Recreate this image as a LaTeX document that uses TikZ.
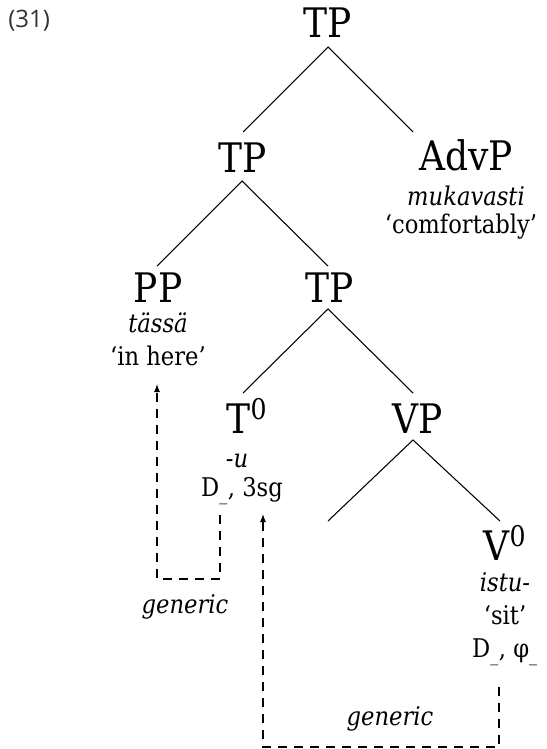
\documentclass[tikz,border=0pt]{standalone}
\usepackage{fontspec}
\setmainfont{DejaVu Serif}
\newfontfamily\numfont{Open Sans}
\usetikzlibrary{arrows.meta}
\newcommand{\blank}{\textsubscript{\_}}
\begin{document}
\begin{tikzpicture}[x=0.75pt,y=-0.75pt,
  big/.style={font=\fontsize{27}{32}\selectfont, inner sep=0pt, anchor=base, yscale=1.13},
  gloss/.style={font=\fontsize{16.5}{20}\selectfont, inner sep=0pt, anchor=base, yscale=1.17, xscale=1.03},
  branch/.style={line width=0.8pt},
  link/.style={dash pattern=on 7pt off 5pt, line width=0.8pt},
  tip/.style={-{Latex[length=6pt,width=4.5pt]}}
]
\useasboundingbox (0,0) rectangle (546,749);

\node[anchor=base west, inner sep=0pt, font=\numfont\fontsize{18}{21}\selectfont, text=black!80] (num) at (8,28) {(31)};

% labels
\node[big] (TP0) at (328,38) {TP};
\node[big] (TP1) at (243,172) {TP};
\node[big] (AdvP) at (466,170) {AdvP};
\node[gloss] (muk) at (466,205) {\itshape mukavasti};
\node[gloss] (comf) at (461,233) {‘comfortably’};
\node[big] (PP) at (158,302) {PP};
\node[gloss] (tassa) at (158,332) {\itshape tässä};
\node[gloss] (inhere) at (158,365) {‘in here’};
\node[big] (TP2) at (330,302) {TP};
\node[big] (T0) at (247,433) {T\textsuperscript{0}};
\node[gloss] (u) at (237,467) {\itshape -u};
\node[gloss] (Tfeat) at (242,496) {D\blank, 3sg};
\node[big] (VP) at (418,433) {VP};
\node[big] (V0) at (505,560) {V\textsuperscript{0}};
\node[gloss] (istu) at (505,591) {\itshape istu-};
\node[gloss] (sit) at (505,624) {‘sit’};
\node[gloss] (Vfeat) at (505,657) {D\blank, φ\blank};
\node[gloss] (gen1) at (185,613) {\itshape generic};
\node[gloss] (gen2) at (390,725) {\itshape generic};

% branch points
\coordinate (a0) at (328,47);
\coordinate (a0l) at (243,132);
\coordinate (a0r) at (413,132);
\coordinate (a1) at (242,181);
\coordinate (a1l) at (157,266);
\coordinate (a1r) at (328,266);
\coordinate (a2) at (328,309);
\coordinate (a2l) at (243,393);
\coordinate (a2r) at (413,393);
\coordinate (a3) at (413,440);
\coordinate (a3l) at (328,521);
\coordinate (a3r) at (500,521);

\draw[branch] (a0l) -- (a0) -- (a0r);
\draw[branch] (a1l) -- (a1) -- (a1r);
\draw[branch] (a2l) -- (a2) -- (a2r);
\draw[branch] (a3l) -- (a3) -- (a3r);

% dashed links
\coordinate (d1s) at (220,515);
\coordinate (d1e) at (157,384);
\draw[link,tip] (d1s) -- (220,579) -- (157,579) -- (d1e);
\coordinate (d2s) at (499,687);
\coordinate (d2e) at (263,514);
\draw[link,tip] (d2s) -- (499,747) -- (263,747) -- (d2e);
\end{tikzpicture}
\end{document}
